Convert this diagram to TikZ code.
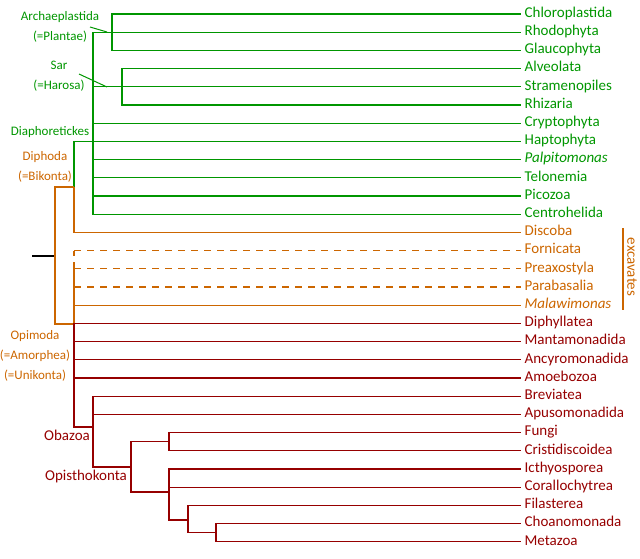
\documentclass[tikz,border=0pt]{standalone}
\usepackage{fontspec}
\setmainfont{Carlito}
\usepackage{tikz}

\definecolor{diagreen}{RGB}{0,150,0}
\definecolor{excorange}{RGB}{204,102,0}
\definecolor{amorred}{RGB}{150,0,0}

\begin{document}
\begin{tikzpicture}[x=1pt, y=-1pt, line width=1.3pt]
        \tikzset{Leaf/.style={anchor=west, inner sep=3pt, text height=.65em,
            text depth=0pt, font=\fontsize{15}{15}\selectfont}}
        \tikzset{CladeLabel/.style={align=center, inner sep=0pt,
            font=\fontsize{13}{20}\selectfont}}
        \tikzset{Green/.style={color=diagreen}}
        \tikzset{Orange/.style={color=excorange}}
        \tikzset{Red/.style={color=amorred}}
        \tikzset{DashLine/.style={dash pattern=on 7pt off 6pt}}

        \useasboundingbox (0,0) rectangle (640,558);

        % leaves
        \node[Leaf, Green] (chloro) at (521,14) {Chloroplastida};
        \node[Leaf, Green] (rhodo) at (521,32.2) {Rhodophyta};
        \node[Leaf, Green] (glauco) at (521,50.4) {Glaucophyta};
        \node[Leaf, Green] (alveo) at (521,68.6) {Alveolata};
        \node[Leaf, Green] (strameno) at (521,86.8) {Stramenopiles};
        \node[Leaf, Green] (rhiza) at (521,105) {Rhizaria};
        \node[Leaf, Green] (crypto) at (521,123.2) {Cryptophyta};
        \node[Leaf, Green] (hapto) at (521,141.4) {Haptophyta};
        \node[Leaf, Green] (palpi) at (521,159.6) {\itshape Palpitomonas};
        \node[Leaf, Green] (telon) at (521,177.8) {Telonemia};
        \node[Leaf, Green] (picoz) at (521,196) {Picozoa};
        \node[Leaf, Green] (centro) at (521,214.2) {Centrohelida};
        \node[Leaf, Orange] (discoba) at (521,232.4) {Discoba};
        \node[Leaf, Orange] (forn) at (521,250.6) {Fornicata};
        \node[Leaf, Orange] (prea) at (521,268.8) {Preaxostyla};
        \node[Leaf, Orange] (parab) at (521,287) {Parabasalia};
        \node[Leaf, Orange] (malaw) at (521,305.2) {\itshape Malawimonas};
        \node[Leaf, Red] (diphyl) at (521,323.4) {Diphyllatea};
        \node[Leaf, Red] (manta) at (521,341.6) {Mantamonadida};
        \node[Leaf, Red] (ancyro) at (521,359.8) {Ancyromonadida};
        \node[Leaf, Red] (amoeb) at (521,378) {Amoebozoa};
        \node[Leaf, Red] (brev) at (521,396.2) {Breviatea};
        \node[Leaf, Red] (apuso) at (521,414.4) {Apusomonadida};
        \node[Leaf, Red] (fungi) at (521,432.6) {Fungi};
        \node[Leaf, Red] (cristi) at (521,450.8) {Cristidiscoidea};
        \node[Leaf, Red] (ichthyo) at (521,469) {Icthyosporea};
        \node[Leaf, Red] (coral) at (521,487.2) {Corallochytrea};
        \node[Leaf, Red] (filast) at (521,505.4) {Filasterea};
        \node[Leaf, Red] (choano) at (521,523.6) {Choanomonada};
        \node[Leaf, Red] (metaz) at (521,541.8) {Metazoa};

        % inner branch points
        \coordinate (arch) at (112,32.2);
        \coordinate (sar) at (122,86.8);
        \coordinate (dia) at (93,141.4);
        \coordinate (diph) at (74,187);
        \coordinate (root) at (55,256);
        \coordinate (rootstub) at (32,256);
        \coordinate (opi) at (74,324);
        \coordinate (obaz) at (93,427);
        \coordinate (opis) at (131,467);
        \coordinate (fungigrp) at (169,441.7);
        \coordinate (holo) at (169,492);
        \coordinate (filgrp) at (188,520);
        \coordinate (choagrp) at (216,532.7);

        % Diaphoretickes
        \draw[Green] (arch) |- (chloro.west);
        \draw[Green] (arch) |- (rhodo.west);
        \draw[Green] (arch) |- (glauco.west);
        \draw[Green] (sar) |- (alveo.west);
        \draw[Green] (sar) |- (strameno.west);
        \draw[Green] (sar) |- (rhiza.west);
        \draw[Green] (dia) |- (arch);
        \draw[Green] (dia) |- (sar);
        \draw[Green] (dia) |- (crypto.west);
        \draw[Green] (dia) |- (hapto.west);
        \draw[Green] (dia) |- (palpi.west);
        \draw[Green] (dia) |- (telon.west);
        \draw[Green] (dia) |- (picoz.west);
        \draw[Green] (dia) |- (centro.west);
        \draw[Green] (diph) |- (dia);

        % Diphoda, root, excavates
        \draw[Orange] (diph) |- (discoba.west);
        \draw (rootstub) -- (root);
        \draw[Orange] (root) |- (diph);
        \draw[Orange] (root) |- (opi);
        \draw[Orange] (opi) |- (malaw.west);
        \draw[Orange] (opi) -- (opi |- prea.west);
        \draw[Orange, DashLine] (opi |- prea.west) -- (opi |- forn.west);
        \draw[Orange, DashLine] (opi |- forn.west) -- (forn.west);
        \draw[Orange, DashLine] (opi |- prea.west) -- (prea.west);
        \draw[Orange, DashLine] (opi |- parab.west) -- (parab.west);

        % Amorphea
        \draw[Red, line width=1.8pt] (opi) |- (diphyl.west);
        \draw[Red] (opi) |- (manta.west);
        \draw[Red] (opi) |- (ancyro.west);
        \draw[Red] (opi) |- (amoeb.west);
        \draw[Red] (opi) |- (obaz);
        \draw[Red] (obaz) |- (brev.west);
        \draw[Red] (obaz) |- (apuso.west);
        \draw[Red] (obaz) |- (opis);
        \draw[Red] (opis) |- (fungigrp);
        \draw[Red] (opis) |- (holo);
        \draw[Red] (fungigrp) |- (fungi.west);
        \draw[Red] (fungigrp) |- (cristi.west);
        \draw[Red] (holo) |- (ichthyo.west);
        \draw[Red] (holo) |- (coral.west);
        \draw[Red] (holo) |- (filgrp);
        \draw[Red] (filgrp) |- (filast.west);
        \draw[Red] (filgrp) |- (choagrp);
        \draw[Red] (choagrp) |- (choano.west);
        \draw[Red] (choagrp) |- (metaz.west);

        % clade names
        \node[CladeLabel, Green] (archlab) at (60,27) {Archaeplastida\\(=Plantae)};
        \node[CladeLabel, Green] (sarlab) at (59,76) {Sar\\(=Harosa)};
        \node[CladeLabel, Green] (dialab) at (50,132) {Diaphoretickes};
        \node[CladeLabel, Orange] (diphlab) at (45,167) {Diphoda\\(=Bikonta)};
        \node[CladeLabel, Orange] (opilab) at (35,356) {Opimoda\\(=Amorphea)\\(=Unikonta)};
        \node[CladeLabel, Red, font=\fontsize{15}{15}\selectfont] (obazlab) at (67,435) {Obazoa};
        \node[CladeLabel, Red, font=\fontsize{15}{15}\selectfont] (opislab) at (86,476) {Opisthokonta};
        \node[CladeLabel, Orange, rotate=-90, font=\fontsize{15}{15}\selectfont] (exclab) at (632,267) {excavates};

        \coordinate (archtip) at (90,27);
        \coordinate (archend) at (107,32);
        \coordinate (sartip) at (79,74);
        \coordinate (sarend) at (107,87);
        \coordinate (exctop) at (623,228);
        \coordinate (excbot) at (623,310);
        \draw[Green, line width=1pt] (archtip) -- (archend);
        \draw[Green, line width=1pt] (sartip) -- (sarend);
        \draw[Orange] (exctop) -- (excbot);
      \end{tikzpicture}
\end{document}
